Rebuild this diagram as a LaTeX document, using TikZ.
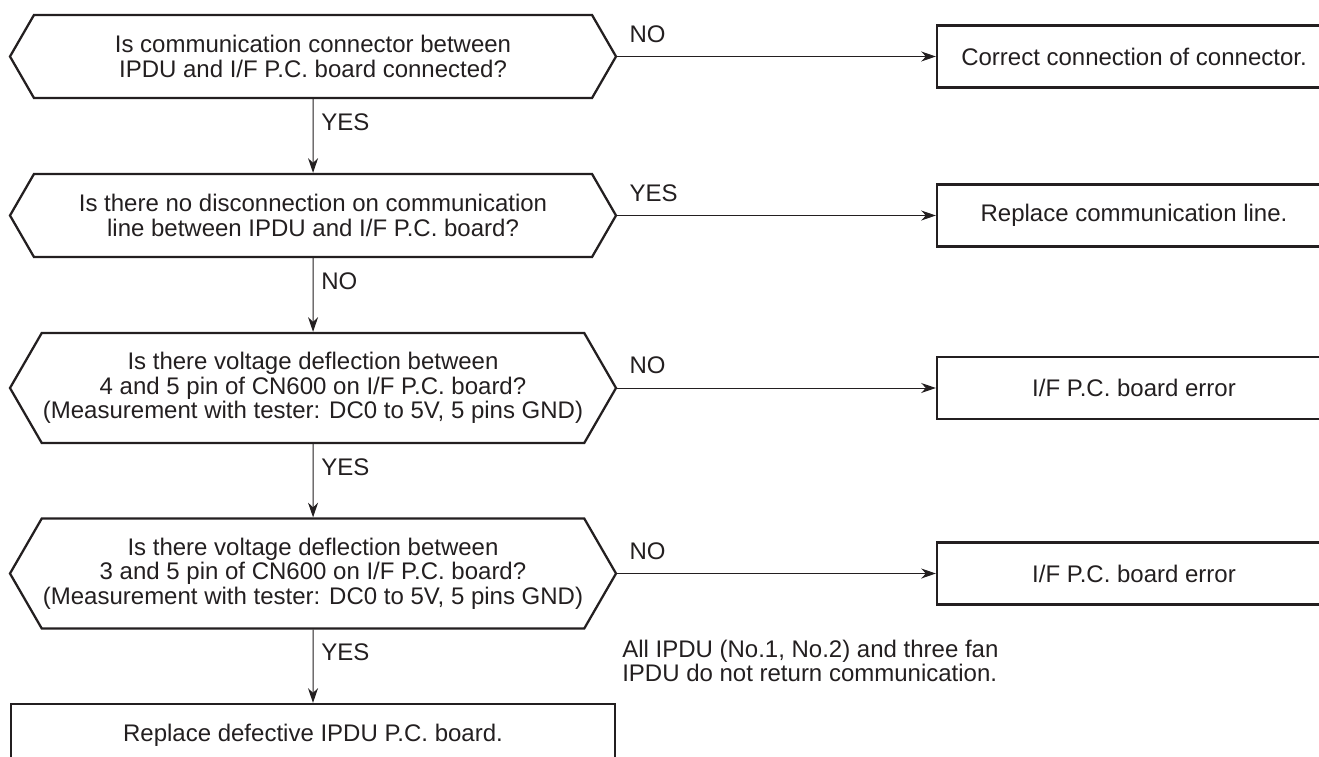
\documentclass[tikz,border=0pt]{standalone}
\usepackage{fontspec}
\setmainfont{Liberation Sans}
\usetikzlibrary{arrows.meta,shapes.symbols,positioning}
\definecolor{ink}{RGB}{35,31,32}

\begin{document}
\begin{tikzpicture}[x=0.75pt,y=-0.75pt,
  every node/.style={font=\fontsize{18}{18.5}\selectfont,text=ink},
  query/.style={draw=ink,line width=1.7pt,signal,signal to=west and east,
    signal pointer angle=120,minimum width=454.5pt,align=center,inner sep=0pt},
  fixbox/.style={draw=ink,line width=1.7pt,minimum width=295.5pt,minimum height=46.5pt},
  flow/.style={draw=ink,line width=0.75pt,-{Stealth[length=11pt,width=7.5pt,inset=3.5pt]}},
  lbl/.style={anchor=west,inner sep=0pt}]
  \useasboundingbox (0,0) rectangle (1319,756);
  \clip (0,0) rectangle (1319,756);
  % Checks (left column)
  \node[query,minimum height=62.25pt] (q1) at (313,56.5)
    {Is communication connector between\\IPDU and I/F P.C. board connected?};
  \node[query,minimum height=62.25pt] (q2) at (313,215.5)
    {Is there no disconnection on communication\\line between IPDU and I/F P.C. board?};
  \node[query,minimum height=82.5pt] (q3) at (313,388)
    {Is there voltage deflection between\\4 and 5 pin of CN600 on I/F P.C. board?\\(Measurement with tester: DC0 to 5V, 5 pins GND)};
  \node[query,minimum height=82.5pt] (q4) at (313,573.5)
    {Is there voltage deflection between\\3 and 5 pin of CN600 on I/F P.C. board?\\(Measurement with tester: DC0 to 5V, 5 pins GND)};
  \node[fixbox,minimum width=453pt] (fix) at (313,735) {Replace defective IPDU P.C. board.};
  % Remedies (right column)
  \node[fixbox] (r1) at (1134,56.5) {Correct connection of connector.};
  \node[fixbox] (r2) at (1134,215.5) {Replace communication line.};
  \node[fixbox] (r3) at (1134,388) {I/F P.C. board error};
  \node[fixbox] (r4) at (1134,573.5) {I/F P.C. board error};
  % Flow
  \draw[flow] (q1) -- (q2);
  \draw[flow] (q2) -- (q3);
  \draw[flow] (q3) -- (q4);
  \draw[flow] (q4) -- (fix);
  \draw[flow] (q1.east) -- (r1);
  \draw[flow] (q2.east) -- (r2);
  \draw[flow] (q3.east) -- (r3);
  \draw[flow] (q4.east) -- (r4);
  % Answers
  \node[lbl] (a1) at ([xshift=6pt,yshift=-17pt]q1.south) {YES};
  \node[lbl] (a2) at ([xshift=6pt,yshift=-17pt]q2.south) {NO};
  \node[lbl] (a3) at ([xshift=6pt,yshift=-17pt]q3.south) {YES};
  \node[lbl] (a4) at ([xshift=6pt,yshift=-17pt]q4.south) {YES};
  \node[lbl] (b1) at ([xshift=9pt,yshift=17pt]q1.east) {NO};
  \node[lbl] (b2) at ([xshift=9pt,yshift=17pt]q2.east) {YES};
  \node[lbl] (b3) at ([xshift=9pt,yshift=17pt]q3.east) {NO};
  \node[lbl] (b4) at ([xshift=9pt,yshift=17pt]q4.east) {NO};
  % Note
  \node[lbl,align=left] (note) at (622,661)
    {All IPDU (No.1, No.2) and three fan\\IPDU do not return communication.};
\end{tikzpicture}
\end{document}
